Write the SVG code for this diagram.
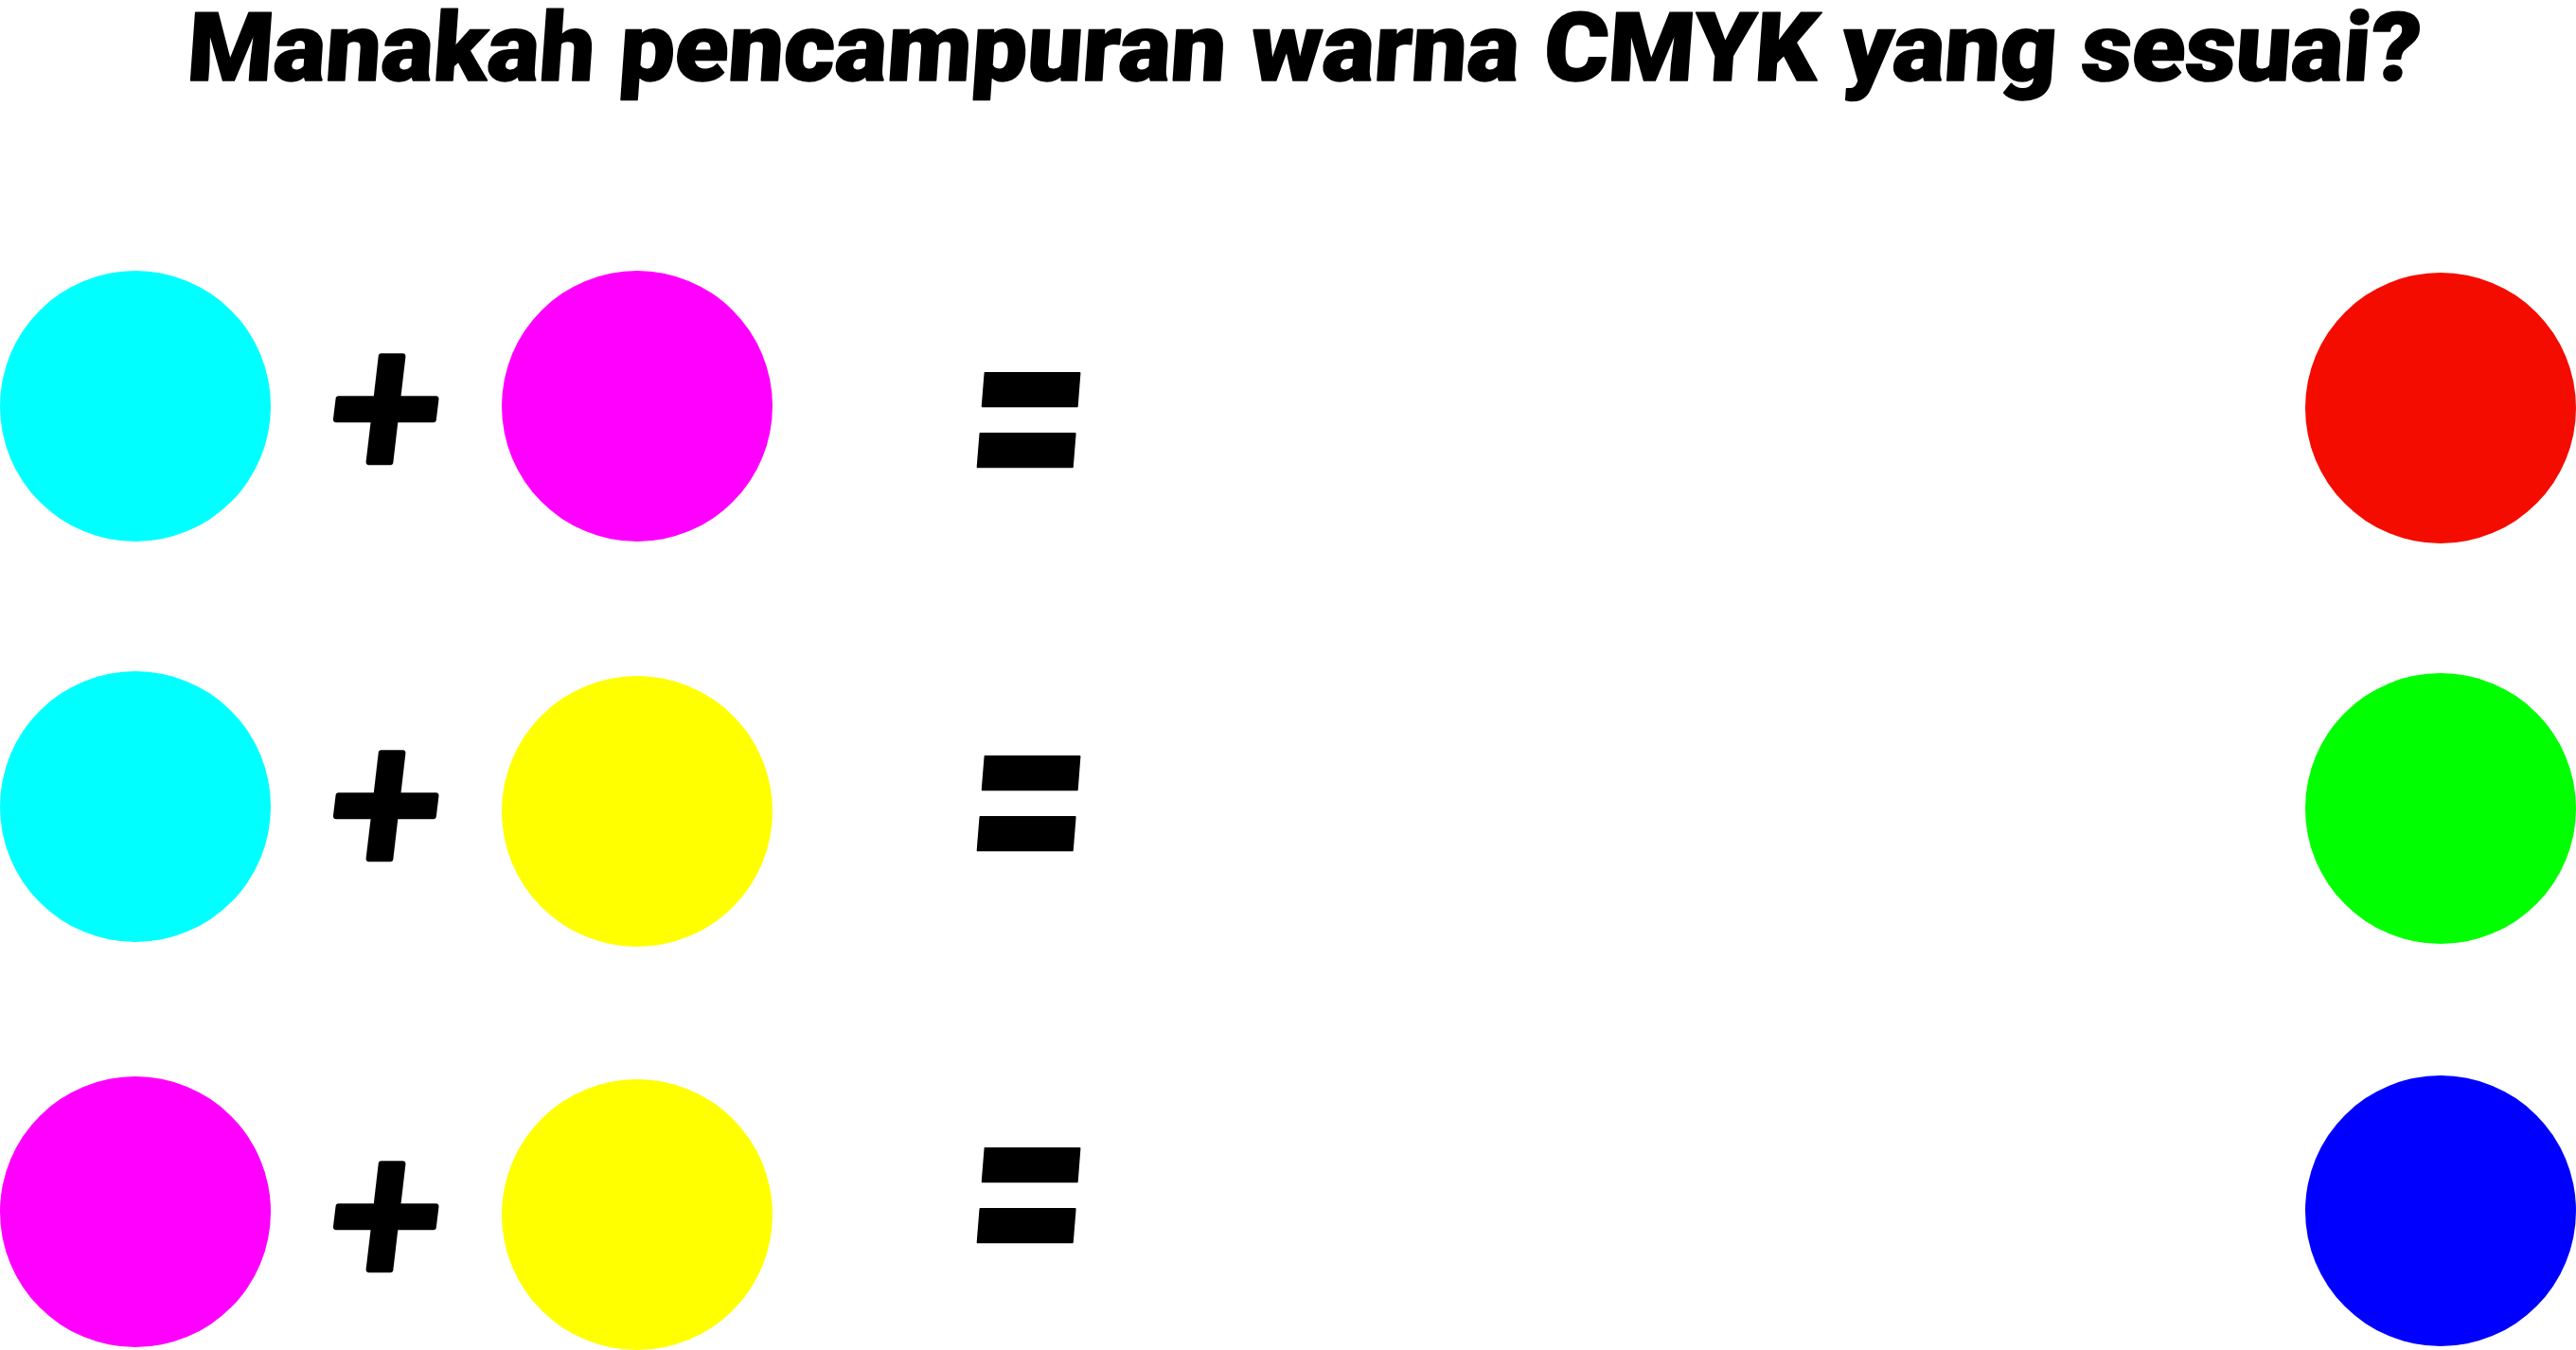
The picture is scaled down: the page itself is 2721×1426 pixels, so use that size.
<svg xmlns="http://www.w3.org/2000/svg" width="2721" height="1426" viewBox="0 0 2721 1426">
<style>
.t{font-family:Roboto,"Open Sans","Liberation Sans",sans-serif;font-weight:900;fill:#000;stroke:#000;stroke-width:1.5;stroke-linejoin:round}
.op{font-family:Lato,"Open Sans","Liberation Sans",sans-serif;font-weight:900;font-style:italic;fill:#000;stroke:#000;stroke-linejoin:round;text-anchor:middle}
.pl{font-size:210px;stroke-width:6}
.eq{font-size:225px;stroke-width:1.5}
</style>
<rect width="2721" height="1426" fill="#fff"/>
<text id="title" class="t" transform="translate(196,85) skewX(-4)" x="0" y="0" font-size="101" textLength="2359" lengthAdjust="spacingAndGlyphs">Manakah pencampuran warna CMYK yang sesuai?</text>
<g id="row1">
<circle id="c1a" cx="143" cy="429" r="143" fill="#00FFFF"/>
<text id="plus1" class="op pl" transform="translate(407,432) scale(1,1.05)" x="0" y="71">+</text>
<circle id="c1b" cx="673" cy="429" r="143" fill="#FF00FF"/>
<text id="eq1" class="op eq" transform="translate(1086,443) scale(1,1.6)" x="0" y="76">=</text>
<circle id="c1r" cx="2578" cy="431" r="143" fill="#F50C00"/>
</g>
<g id="row2">
<circle id="c2a" cx="143" cy="852" r="143" fill="#00FFFF"/>
<text id="plus2" class="op pl" transform="translate(407,851) scale(1,1.05)" x="0" y="71">+</text>
<circle id="c2b" cx="673" cy="857" r="143" fill="#FFFF00"/>
<text id="eq2" class="op eq" transform="translate(1086,848) scale(1,1.6)" x="0" y="76">=</text>
<circle id="c2r" cx="2578" cy="854" r="143" fill="#00FF00"/>
</g>
<g id="row3">
<circle id="c3a" cx="143" cy="1280" r="143" fill="#FF00FF"/>
<text id="plus3" class="op pl" transform="translate(407,1285) scale(1,1.05)" x="0" y="71">+</text>
<circle id="c3b" cx="673" cy="1283" r="143" fill="#FFFF00"/>
<text id="eq3" class="op eq" transform="translate(1086,1262) scale(1,1.6)" x="0" y="76">=</text>
<circle id="c3r" cx="2578" cy="1279" r="143" fill="#0000FF"/>
</g>
<g id="connectors"></g>
</svg>
